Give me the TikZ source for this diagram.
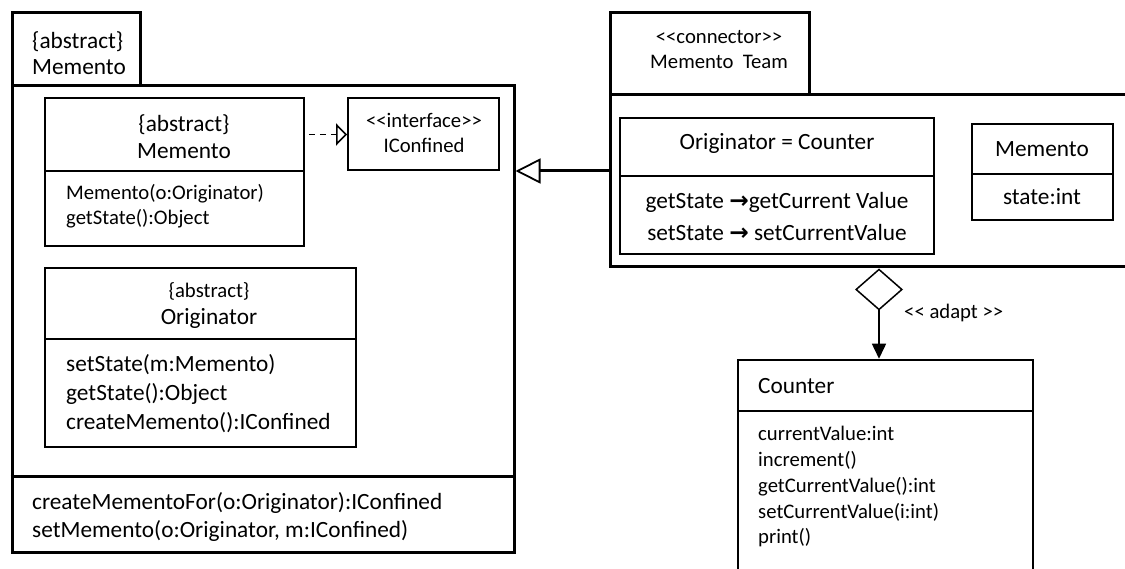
\documentclass[tikz,border=0pt]{standalone}
\usepackage{fontspec}
\setmainfont{Carlito}
\newfontfamily\dejavu{DejaVu Sans}
\usetikzlibrary{arrows.meta,fit}
\newcommand\lls{<\kern0pt<}
\newcommand\ggs{>\kern0pt>}
\newcommand\rarr{{\dejavu\bfseries →}}
\begin{document}
\begin{tikzpicture}[x=1pt,y=-1pt,
  pkg/.style={draw, line width=3pt, inner sep=0pt},
  cls/.style={draw, line width=1.8pt, inner sep=0pt},
  tl/.style={inner sep=0pt, font=\fontsize{23.3}{28}\selectfont},
  ts/.style={inner sep=0pt, font=\fontsize{20.7}{25}\selectfont},
  lt/.style={anchor=base west},
  ct/.style={anchor=base}]
\useasboundingbox (0,0) rectangle (1125,569);
\clip (0,0) rectangle (1125,569);
\fill[white] (0,0) rectangle (1125,569);

% ---------- left package ----------
\node[pkg, fit={(12,13) (140,86)}] (ltab) {};
\node[pkg, fit={(12,86) (514,552)}] (lbody) {};
\coordinate (ldiv) at (0,476);
\draw[line width=3pt] (lbody.west |- ldiv) -- (lbody.east |- ldiv);
\node[tl,lt] (ltabA) at (32,49) {\{abstract\}};
\node[tl,lt] (ltabB) at (32,75) {Memento};

% inner Memento
\node[cls, fit={(45,98) (304,171)}] (memT) {};
\node[cls, fit={(45,171) (304,246)}] (memO) {};
\node[tl,ct] (memA) at (184,132) {\{abstract\}};
\node[tl,ct] (memB) at (184,159) {Memento};
\node[ts,lt] (memC) at (66,200) {Memento(o:Originator)};
\node[ts,lt] (memD) at (66,225) {getState():Object};

% IConfined
\node[cls, fit={(348,98) (499,170)}] (iconf) {};
\node[ts,ct] (icA) at (424,128) {\lls interface\ggs};
\node[ts,ct] (icB) at (424,153) {IConfined};

% Originator
\node[cls, fit={(45,268) (356,339)}] (origT) {};
\node[cls, fit={(45,339) (356,447)}] (origO) {};
\node[ts,ct] (orA) at (209,298) {\{abstract\}};
\node[tl,ct] (orB) at (209,325) {Originator};
\node[tl,lt] (orC) at (66,372) {setState(m:Memento)};
\node[tl,lt] (orD) at (66,400) {getState():Object};
\node[tl,lt] (orE) at (66,429) {createMemento():IConfined};

% bottom compartment
\node[tl,lt] (lbA) at (32,509) {createMementoFor(o:Originator):IConfined};
\node[tl,lt] (lbB) at (32,537) {setMemento(o:Originator, m:IConfined)};

% realization arrow
\draw[line width=1.6pt, dash pattern=on 6pt off 5pt, shorten <=4pt,
  -{Triangle[open,length=11pt,width=22pt,line width=1.6pt]}]
  (memT.east) -- (memT.east -| iconf.west);

% ---------- right package ----------
\node[pkg, fit={(610,13) (809,95)}] (rtab) {};
\node[pkg, fit={(610,95) (1145,267)}] (rbody) {};
\node[ts,ct] (rtA) at (719,44) {\lls connector\ggs};
\node[ts,ct] (rtB) at (719,69) {Memento\ \ Team};

\node[cls, fit={(620,118) (934,176)}] (ocT) {};
\node[cls, fit={(620,176) (934,254)}] (ocO) {};
\node[tl,ct] (ocA) at (777,150) {Originator = Counter};
\node[tl,ct] (ocB) at (777,209) {getState \rarr getCurrent Value};
\node[tl,ct] (ocC) at (777,241) {setState \rarr\ setCurrentValue};

\node[cls, fit={(972,124) (1113,174)}] (rmT) {};
\node[cls, fit={(972,174) (1113,220)}] (rmO) {};
\node[tl,ct] (rmA) at (1042,157) {Memento};
\node[tl,ct] (rmB) at (1042,205) {state:int};

% inheritance
\coordinate (inhy) at (0,171);
\draw[line width=3pt, -{Triangle[open,length=25pt,width=25pt,line width=1.8pt]}]
  (rbody.west |- inhy) -- (lbody.east |- inhy);

% ---------- Counter ----------
\node[draw, line width=2.5pt, inner sep=0pt, fit={(738,360) (1033,600)}] (counter) {};
\coordinate (cdiv) at (0,411);
\draw[line width=2.5pt] (counter.west |- cdiv) -- (counter.east |- cdiv);
\node[tl,lt] (cnA) at (758,394) {Counter};
\node[ts,lt] (cnB) at (758,440) {currentValue:int};
\node[ts,lt] (cnC) at (758,466) {increment()};
\node[ts,lt] (cnD) at (758,492) {getCurrentValue():int};
\node[ts,lt] (cnE) at (758,518) {setCurrentValue(i:int)};
\node[ts,lt] (cnF) at (758,543) {print()};

% adapt
\coordinate (agx) at (879,0);
\draw[line width=1.5pt,
  {Diamond[open,length=42pt,width=48pt,line width=1.5pt]}-{Triangle[length=15pt,width=14pt]}]
  (rbody.south -| agx) -- (counter.north -| agx);
\node[ts,lt] (adapt) at (904,319) {\lls\ adapt \ggs};
\end{tikzpicture}
\end{document}
